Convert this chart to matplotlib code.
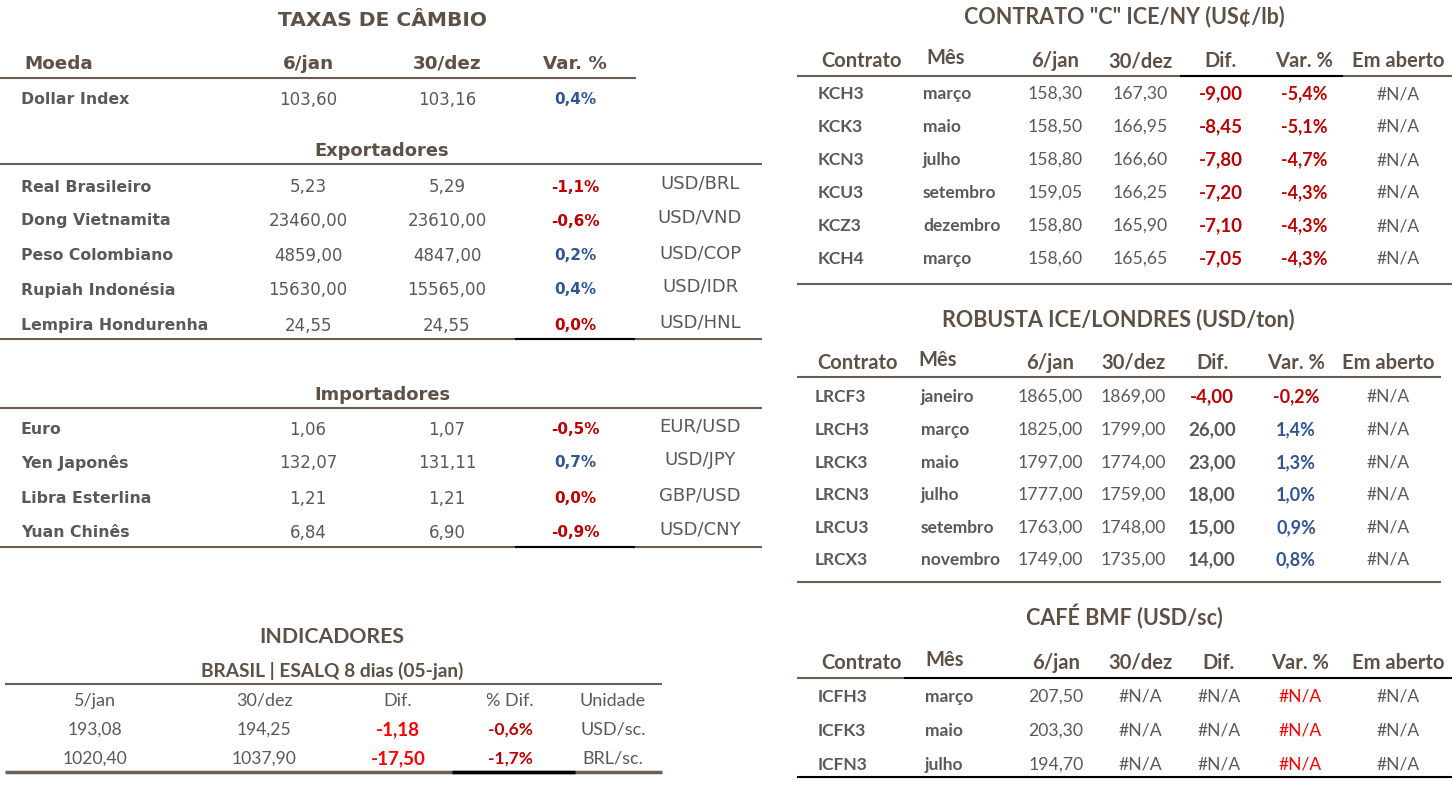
import matplotlib
matplotlib.use('Agg')
import matplotlib.pyplot as plt

# ── Data ──────────────────────────────────────────────────────────────────────
fx_header = ['Moeda', '6/jan', '30/dez', 'Var. %']
dollar_index = ['Dollar Index', '103,60', '103,16', '0,4%']

exp_names = ['Real Brasileiro', 'Dong Vietnamita', 'Peso Colombiano',
             'Rupiah Indonésia', 'Lempira Hondurenha']
exp_jan6 = ['5,23', '23460,00', '4859,00', '15630,00', '24,55']
exp_dec30 = ['5,29', '23610,00', '4847,00', '15565,00', '24,55']
exp_var = ['-1,1%', '-0,6%', '0,2%', '0,4%', '0,0%']
exp_pair = ['USD/BRL', 'USD/VND', 'USD/COP', 'USD/IDR', 'USD/HNL']

imp_names = ['Euro', 'Yen Japonês', 'Libra Esterlina', 'Yuan Chinês']
imp_jan6 = ['1,06', '132,07', '1,21', '6,84']
imp_dec30 = ['1,07', '131,11', '1,21', '6,90']
imp_var = ['-0,5%', '0,7%', '0,0%', '-0,9%']
imp_pair = ['EUR/USD', 'USD/JPY', 'GBP/USD', 'USD/CNY']

ind_header = ['5/jan', '30/dez', 'Dif.', '% Dif.', 'Unidade']
ind_jan5 = ['193,08', '1020,40']
ind_dec30 = ['194,25', '1037,90']
ind_dif = ['-1,18', '-17,50']
ind_pct = ['-0,6%', '-1,7%']
ind_unit = ['USD/sc.', 'BRL/sc.']

fut_header = ['Contrato', 'Mês', '6/jan', '30/dez', 'Dif.', 'Var. %', 'Em aberto']

kc_code = ['KCH3', 'KCK3', 'KCN3', 'KCU3', 'KCZ3', 'KCH4']
kc_month = ['março', 'maio', 'julho', 'setembro', 'dezembro', 'março']
kc_jan6 = ['158,30', '158,50', '158,80', '159,05', '158,80', '158,60']
kc_dec30 = ['167,30', '166,95', '166,60', '166,25', '165,90', '165,65']
kc_dif = ['-9,00', '-8,45', '-7,80', '-7,20', '-7,10', '-7,05']
kc_var = ['-5,4%', '-5,1%', '-4,7%', '-4,3%', '-4,3%', '-4,3%']
kc_open = ['#N/A'] * 6

lr_code = ['LRCF3', 'LRCH3', 'LRCK3', 'LRCN3', 'LRCU3', 'LRCX3']
lr_month = ['janeiro', 'março', 'maio', 'julho', 'setembro', 'novembro']
lr_jan6 = ['1865,00', '1825,00', '1797,00', '1777,00', '1763,00', '1749,00']
lr_dec30 = ['1869,00', '1799,00', '1774,00', '1759,00', '1748,00', '1735,00']
lr_dif = ['-4,00', '26,00', '23,00', '18,00', '15,00', '14,00']
lr_var = ['-0,2%', '1,4%', '1,3%', '1,0%', '0,9%', '0,8%']
lr_open = ['#N/A'] * 6

bmf_code = ['ICFH3', 'ICFK3', 'ICFN3']
bmf_month = ['março', 'maio', 'julho']
bmf_jan6 = ['207,50', '203,30', '194,70']
bmf_dec30 = ['#N/A'] * 3
bmf_dif = ['#N/A'] * 3
bmf_var = ['#N/A'] * 3
bmf_open = ['#N/A'] * 3

# ── Style ─────────────────────────────────────────────────────────────────────
plt.rcParams['font.family'] = ['Lato', 'DejaVu Sans']
WIDE = ['DejaVu Sans']          # left block is set in a wide face
TITLE = '#5f5046'
TXT = '#595959'
RED = '#c00000'
BRED = '#ff0000'
BLUE = '#2f5597'
LINE = '#6b5d52'

fig = plt.figure(figsize=(14.52, 8.04), dpi=100)
ax = fig.add_axes([0, 0, 1, 1])
ax.set_xlim(0, 1452)
ax.set_ylim(804, 0)
ax.axis('off')


def txt(x, y, s, size=11.5, color=TXT, weight='normal', ha='center', **kw):
    ax.text(x, y, s, fontsize=size, color=color, fontweight=weight,
            ha=ha, va='center', **kw)


def hline(y, x0, x1, color=LINE, lw=1.5):
    ax.plot([x0, x1], [y, y], color=color, lw=lw, solid_capstyle='butt')


def sign_color(v, neg=RED, pos=BLUE):
    return neg if v.startswith('-') or v == '0,0%' else pos


# ── Taxas de câmbio ───────────────────────────────────────────────────────────
txt(382, 21, 'TAXAS DE CÂMBIO', size=14.6, color=TITLE, weight='bold', family=WIDE)
hx = [24, 308, 447, 575]
txt(hx[0], 64, fx_header[0], size=13.2, color=TITLE, weight='bold', ha='left',
    family=WIDE)
for x, h in zip(hx[1:], fx_header[1:]):
    txt(x, 64, h, size=13.2, color=TITLE, weight='bold', family=WIDE)
hline(79, 0, 636)
txt(21, 100, dollar_index[0], size=11.3, weight='bold', ha='left', family=WIDE)
txt(308, 100, dollar_index[1], size=12, family=WIDE)
txt(447, 100, dollar_index[2], size=12, family=WIDE)
txt(575, 100, dollar_index[3], size=11, weight='bold',
    color=sign_color(dollar_index[3]), family=WIDE)


def fx_block(title, ty, names, a, b, var, pair, ys):
    txt(382, ty, title, size=12.9, color=TITLE, weight='bold', family=WIDE)
    hline(ty + 14, 0, 762)
    for i, y in enumerate(ys):
        txt(21, y, names[i], size=11.3, weight='bold', ha='left', family=WIDE)
        txt(308, y, a[i], size=12, family=WIDE)
        txt(447, y, b[i], size=12, family=WIDE)
        txt(575, y, var[i], size=11, weight='bold', color=sign_color(var[i]),
            family=WIDE)
        txt(700, y - 3, pair[i], size=13, family=WIDE)


fx_block('Exportadores', 151, exp_names, exp_jan6, exp_dec30, exp_var, exp_pair,
         [187, 221, 256, 290, 326])
hline(340, 0, 762)
hline(340, 515, 635, color='black')
fx_block('Importadores', 395, imp_names, imp_jan6, imp_dec30, imp_var, imp_pair,
         [430, 463, 499, 533])
hline(548, 0, 762)
hline(548, 515, 635, color='black')

# ── Indicadores ───────────────────────────────────────────────────────────────
txt(332, 637, 'INDICADORES', size=15.3, color=TITLE, weight='bold')
txt(332, 671, 'BRASIL | ESALQ 8 dias (05-jan)', size=13.8, color=TITLE, weight='bold')
hline(685, 5, 662)
ix = [95, 264, 398, 510, 613]
for x, h in zip(ix, ind_header):
    txt(x, 701, h, size=13)
for i, y in enumerate([730, 759]):
    txt(ix[0], y, ind_jan5[i], size=12.6)
    txt(ix[1], y, ind_dec30[i], size=12.6)
    txt(ix[2], y, ind_dif[i], size=13.5, weight='bold', color=BRED)
    txt(ix[3], y, ind_pct[i], size=12.5, weight='bold', color=RED)
    txt(ix[4], y, ind_unit[i], size=13)
hline(773, 5, 662, lw=2.5)
hline(773, 452, 575, color='black', lw=2.5)


# ── Futures tables ────────────────────────────────────────────────────────────
def fut_table(title, tx, ty, hdr_y, hx, rows_y, cols, code_x, month_x,
              dif_style, var_style):
    txt(tx, ty, title, size=15.5, color=TITLE, weight='bold')
    for j, (x, h) in enumerate(zip(hx, fut_header)):
        yy = hdr_y - 3 if j == 1 else hdr_y
        txt(x, yy, h, size=14.5, color=TITLE, weight='bold')
    code, month, a, b, dif, var, opn = cols
    for i, y in enumerate(rows_y):
        txt(code_x, y, code[i], size=12.5, weight='bold', ha='left')
        txt(month_x, y, month[i], size=12.5, weight='bold', ha='left')
        txt(hx[2], y, a[i], size=12.7)
        txt(hx[3], y, b[i], size=12.7)
        txt(hx[4], y, dif[i], **dif_style(dif[i]))
        txt(hx[5], y, var[i], **var_style(var[i]))
        txt(hx[6], y, opn[i], size=12.5)


def diff_bold(v):
    return dict(color=RED if v.startswith('-') else TXT, weight='bold', size=13.5)


def var_bold(v):
    return dict(color=RED if v.startswith('-') else BLUE, weight='bold', size=13)


# CONTRATO "C"
fut_table('CONTRATO "C" ICE/NY (US¢/lb)', 1124, 17, 61,
          [861, 946, 1055, 1140, 1221, 1304, 1398],
          [94, 127, 160, 193, 226, 259],
          [kc_code, kc_month, kc_jan6, kc_dec30, kc_dif, kc_var, kc_open],
          818, 923, diff_bold, var_bold)
hline(77, 797, 1452)
hline(77, 1180, 1343, color='black')
hline(285, 797, 1452)

# ROBUSTA
fut_table('ROBUSTA ICE/LONDRES (USD/ton)', 1118, 320, 363,
          [858, 938, 1050, 1133, 1212, 1296, 1388],
          [397, 430, 463, 495, 528, 560],
          [lr_code, lr_month, lr_jan6, lr_dec30, lr_dif, lr_var, lr_open],
          815, 921, diff_bold, var_bold)
hline(378, 797, 1441)
hline(583, 797, 1441)

# CAFÉ BMF
fut_table('CAFÉ BMF (USD/sc)', 1124, 617, 663,
          [862, 945, 1056, 1140, 1219, 1300, 1398],
          [697, 731, 765],
          [bmf_code, bmf_month, bmf_jan6, bmf_dec30, bmf_dif, bmf_var, bmf_open],
          818, 925,
          lambda v: dict(color=TXT, size=12.5),
          lambda v: dict(color=BRED, size=12.5))
hline(679, 797, 904)
hline(679, 904, 1452, color='black')
hline(778, 797, 1452, color='black')

fig.savefig('out.png', dpi=100, facecolor='white')
